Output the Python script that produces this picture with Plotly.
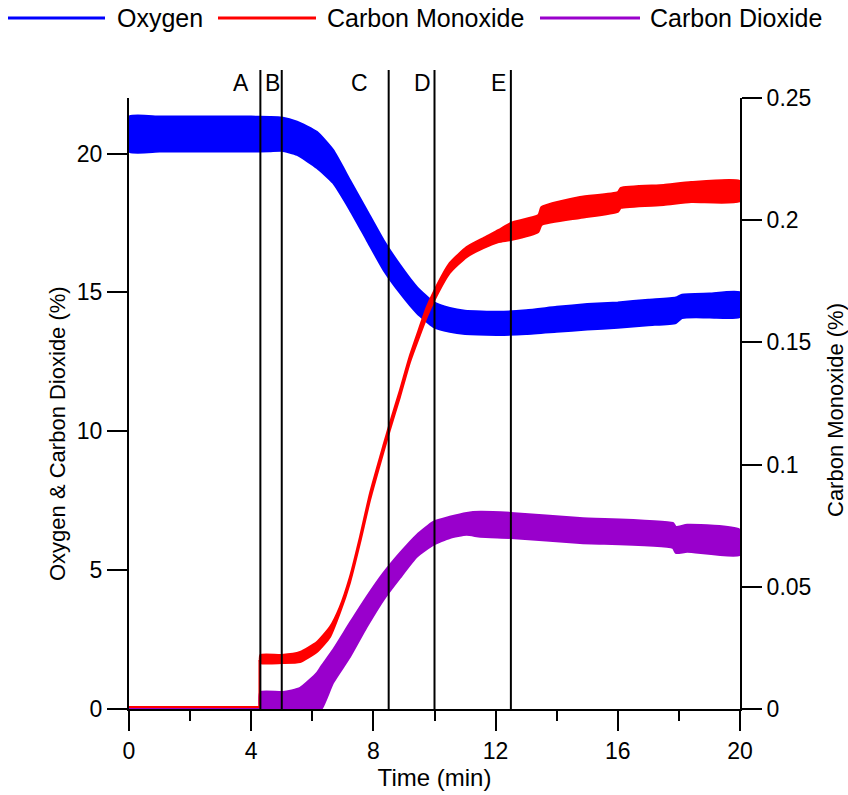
import plotly.graph_objects as go

# ---------------- data ----------------
# Oxygen (%), left axis: upper / lower edges of the noisy trace
o2_time = [0, 1, 2, 3, 4, 4.6, 5.0, 5.5, 6.15, 6.68, 7.23, 7.78, 8.33, 8.87, 9.42, 9.96,
           10.5, 11.0, 12.1, 13.0, 14.0, 15.0, 16.0, 17.0, 17.9, 18.1, 19.0, 20.0]
o2_upper = [21.33, 21.33, 21.33, 21.33, 21.33, 21.32, 21.3, 21.15, 20.78, 20.13, 19.05, 17.97,
            16.89, 15.99, 15.20, 14.66, 14.44, 14.34, 14.30, 14.36, 14.48, 14.58, 14.64,
            14.74, 14.82, 14.92, 14.96, 15.0]
o2_lower = [20.07, 20.07, 20.07, 20.07, 20.07, 20.08, 20.1, 19.95, 19.48, 18.94, 17.97, 16.89,
            15.81, 14.98, 14.26, 13.76, 13.58, 13.50, 13.47, 13.50, 13.58, 13.66, 13.73,
            13.82, 13.90, 14.08, 14.10, 14.12]

# Carbon monoxide (%), right axis -- baseline before the jump, then the noisy band
co_base_time = [0, 4.27, 4.27]
co_base = [0.0008, 0.0008, 0.020]
co_time = [4.3, 5.0, 5.6, 6.15, 6.58, 6.9, 7.23, 7.56, 7.89, 8.33, 8.54, 8.87,
           9.2, 9.75, 10.0, 10.5, 11.05, 11.6, 12.1, 12.5, 13.4, 13.5, 14.76, 16.0,
           16.1, 17.5, 18.4, 20.0]
co_upper = [0.0221, 0.0221, 0.0233, 0.0274, 0.0336, 0.0417, 0.0540, 0.0704,
            0.0884, 0.1080, 0.1170, 0.1305, 0.1448, 0.1645, 0.1714, 0.1825, 0.1890, 0.1927,
            0.1960, 0.1989, 0.2021, 0.2054, 0.2095, 0.2115, 0.2132, 0.2144, 0.2156, 0.2160]
co_lower = [0.0188, 0.0188, 0.0192, 0.0233, 0.0295, 0.0393, 0.0516, 0.0679,
            0.0855, 0.1052, 0.1142, 0.1277, 0.1420, 0.1604, 0.1673, 0.1784, 0.1849, 0.1886,
            0.1911, 0.1919, 0.1952, 0.1980, 0.2009, 0.2034, 0.2050, 0.2062, 0.2074, 0.2078]

# Carbon dioxide (%), left axis -- baseline before the jump, then the noisy band
co2_base_time = [0, 4.3]
co2_base = [0.0, 0.0]
co2_time = [4.3, 5.04, 5.6, 6.15, 6.3, 6.68, 7.23, 7.78, 8.33, 8.87, 9.42, 9.96,
            10.5, 11.05, 11.5, 12.5, 14.76, 17.8, 17.9, 18.27, 20.0]
co2_upper = [0.61, 0.61, 0.76, 1.30, 1.55, 2.13, 3.10, 4.04, 4.90, 5.62, 6.27, 6.74,
             6.92, 7.06, 7.10, 7.06, 6.88, 6.70, 6.56, 6.63, 6.45]
co2_lower = [0.0, 0.0, 0.0, 0.0, 0.0, 0.94, 1.87, 2.95, 3.93, 4.72, 5.48, 5.91,
             6.16, 6.27, 6.20, 6.16, 5.98, 5.80, 5.62, 5.66, 5.55]

# event markers (min)
event_labels = ["A", "B", "C", "D", "E"]
event_times = [4.3, 5.0, 8.5, 10.0, 12.5]

series_names = ["Oxygen", "Carbon Monoxide", "Carbon Dioxide"]
series_colors = ["#0000FF", "#FF0000", "#9900CC"]

x_ticks = [0, 4, 8, 12, 16, 20]
y_ticks = [0, 5, 10, 15, 20]
y2_ticks = [0, 0.05, 0.1, 0.15, 0.2, 0.25]
y2_ticktext = ["0", "0.05", "0.1", "0.15", "0.2", "0.25"]

# ---------------- layout geometry ----------------
W, H = 848, 795
L, R, T, B = 129, 108, 98, 86
PW, PH = W - L - R, H - T - B
FONT = "Liberation Sans, Arial, sans-serif"
FS_TICK = 23
FS_TITLE = 24
FS_VTITLE = 22
FS_LEG = 25


def px_x(px):
    return (px - L) / PW


def px_y(py):
    return (H - B - py) / PH


def band(t, up, lo, color, yaxis):
    xs = list(t) + list(t)[::-1] + [t[0]]
    ys = list(up) + list(lo)[::-1] + [up[0]]
    return go.Scatter(x=xs, y=ys, mode="lines", fill="toself", fillcolor=color,
                      line=dict(color=color, width=2, shape="spline", smoothing=0.5),
                      yaxis=yaxis, showlegend=False, hoverinfo="skip")


def base(t, v, color, yaxis, width):
    return go.Scatter(x=t, y=v, mode="lines", line=dict(color=color, width=width),
                      yaxis=yaxis, showlegend=False, hoverinfo="skip")


fig = go.Figure()
fig.add_trace(base(co2_base_time, co2_base, series_colors[2], "y", 3))
fig.add_trace(band(co2_time, co2_upper, co2_lower, series_colors[2], "y"))
fig.add_trace(band(o2_time, o2_upper, o2_lower, series_colors[0], "y"))
fig.add_trace(base(co_base_time, co_base, series_colors[1], "y2", 2))
fig.add_trace(band(co_time, co_upper, co_lower, series_colors[1], "y2"))

shapes = []
annotations = []
# event lines
for lab, t, lx in zip(event_labels, event_times, [3.67, 4.71, 7.56, 9.62, 12.08]):
    shapes.append(dict(type="line", xref="x", yref="paper", x0=t, x1=t,
                       y0=0, y1=px_y(70), line=dict(color="black", width=2)))
    annotations.append(dict(text=lab, x=lx, xref="x", y=px_y(83), yref="paper",
                            showarrow=False, xanchor="center", yanchor="middle",
                            font=dict(family=FONT, size=FS_TICK, color="black")))

# manual legend
leg_lines = [(8, 105), (218, 316), (540, 640)]
leg_text_x = [115, 325, 648]
for name, col, (a, b), tx in zip(series_names, series_colors, leg_lines, leg_text_x):
    shapes.append(dict(type="line", xref="paper", yref="paper",
                       x0=px_x(a), x1=px_x(b), y0=px_y(18), y1=px_y(18),
                       line=dict(color=col, width=3)))
    annotations.append(dict(text=name, x=px_x(tx), xref="paper", y=px_y(18), yref="paper",
                            showarrow=False, xanchor="left", yanchor="middle",
                            font=dict(family=FONT, size=FS_LEG, color="black")))

# vertical axis titles
annotations.append(dict(text="Oxygen &amp; Carbon Dioxide (%)", textangle=-90,
                        x=px_x(57), y=px_y(434), xref="paper", yref="paper",
                        showarrow=False, xanchor="center", yanchor="middle",
                        font=dict(family=FONT, size=FS_VTITLE, color="black")))
annotations.append(dict(text="Carbon Monoxide (%)", textangle=-90,
                        x=px_x(835), y=px_y(410), xref="paper", yref="paper",
                        showarrow=False, xanchor="center", yanchor="middle",
                        font=dict(family=FONT, size=FS_VTITLE, color="black")))

axis_common = dict(showline=True, linecolor="black", linewidth=2, ticks="outside",
                   ticklen=20, tickwidth=2, tickcolor="black", showgrid=False,
                   zeroline=False, tickfont=dict(family=FONT, size=FS_TICK, color="black"))

fig.update_layout(
    width=W, height=H,
    margin=dict(l=L, r=R, t=T, b=B, autoexpand=False),
    paper_bgcolor="white", plot_bgcolor="white",
    showlegend=False,
    font=dict(family=FONT, size=FS_TICK, color="black"),
    xaxis=dict(range=[0, 20], tickmode="array", tickvals=x_ticks,
               minor=dict(ticks="outside", ticklen=10, tickwidth=2, tickcolor="black", dtick=2),
               title=dict(text="Time (min)", font=dict(family=FONT, size=FS_TITLE), standoff=2),
               **axis_common),
    yaxis=dict(range=[0, 22], tickmode="array", tickvals=y_ticks, **axis_common),
    yaxis2=dict(range=[0, 0.25], overlaying="y", side="right", tickmode="array",
                tickvals=y2_ticks, ticktext=y2_ticktext, **axis_common),
    shapes=shapes,
    annotations=annotations,
)

fig.write_html("out.html")
